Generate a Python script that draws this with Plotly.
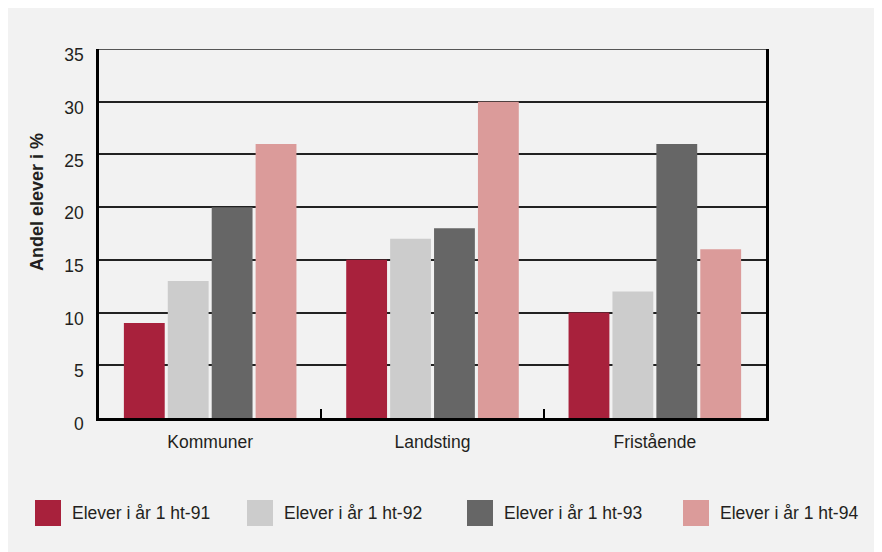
import plotly.graph_objects as go

categories = ["Kommuner", "Landsting", "Fristående"]
series_names = ["Elever i år 1 ht-91", "Elever i år 1 ht-92", "Elever i år 1 ht-93", "Elever i år 1 ht-94"]
ht91 = [9, 15, 10]
ht92 = [13, 17, 12]
ht93 = [20, 18, 26]
ht94 = [26, 30, 16]
y_ticks = [0, 5, 10, 15, 20, 25, 30, 35]
y_title = "Andel elever i %"

colors = ["#A8213C", "#CCCCCC", "#666666", "#DB9B9A"]
series = [ht91, ht92, ht93, ht94]

W, H = 874, 544
ML, MR, MT, MB = 91, 116, 41, 134
PW, PH = W - ML - MR, H - MT - MB


def px(fx):
    return (fx - ML) / PW


def py(fy):
    return (MT + PH - fy) / PH


FONT = "Liberation Sans, Arial, sans-serif"
TXT = "#231f20"
FS = 17.5

fig = go.Figure()
for name, vals, col in zip(series_names, series, colors):
    fig.add_trace(go.Bar(x=categories, y=vals, name=name, marker=dict(color=col, line=dict(width=0)),
                         showlegend=False))

# top gridline at the range end
fig.add_shape(type="line", xref="paper", yref="y", x0=0, x1=1, y0=y_ticks[-1], y1=y_ticks[-1],
              line=dict(color="#222222", width=1.5), layer="below")

# custom legend (large squares)
sq_x = [27, 239, 459, 675]
txt_x = [62, 274, 494, 710]
for name, col, sx, tx in zip(series_names, colors, sq_x, txt_x):
    fig.add_shape(type="rect", xref="paper", yref="paper", x0=px(sx), x1=px(sx + 26),
                  y0=py(518), y1=py(492), fillcolor=col, line=dict(width=0), layer="above")
    fig.add_annotation(xref="paper", yref="paper", x=px(tx), y=py(505), text=name, showarrow=False,
                       xanchor="left", yanchor="middle", font=dict(family=FONT, size=FS, color=TXT))

fig.add_annotation(xref="paper", yref="paper", x=px(29), y=py(194), text="<b>" + y_title + "</b>",
                   textangle=-90, showarrow=False, xanchor="center", yanchor="middle",
                   font=dict(family=FONT, size=18, color=TXT))

fig.update_layout(
    width=W, height=H,
    margin=dict(l=ML, r=MR, t=MT, b=MB, pad=0),
    paper_bgcolor="#F2F2F2", plot_bgcolor="#F2F2F2",
    barmode="group", bargap=0.21, bargroupgap=0.07,
    font=dict(family=FONT, size=FS, color=TXT),
    xaxis=dict(showline=True, linecolor="black", linewidth=2.5, showgrid=False,
               tickson="boundaries", ticks="inside", ticklen=9, tickcolor="black", tickwidth=1.5,
               ticklabelstandoff=6, tickfont=dict(family=FONT, size=FS, color=TXT)),
    yaxis=dict(range=[0, 35], tickvals=y_ticks, showline=True, mirror=True, linecolor="black", linewidth=2.5,
               showgrid=True, gridcolor="#222222", gridwidth=1.5, zeroline=False, ticks="",
               ticklabelstandoff=9, ticklabelshift=6, tickfont=dict(family=FONT, size=FS, color=TXT)),
)

fig.write_html("out.html")
